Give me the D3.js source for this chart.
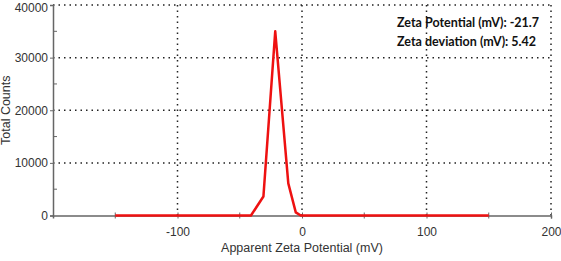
<!DOCTYPE html>
<html>
<head>
<meta charset="utf-8">
<script src="https://cdn.jsdelivr.net/npm/d3@7"></script>
<style>
  html, body { margin: 0; padding: 0; background: #fff; }
  svg { display: block; font-family: "Liberation Sans", Arial, sans-serif; }
</style>
</head>
<body>
<div id="chart"></div>
<script>
// distribution (mV vs counts)
const zeta = [-150, -41, -31, -21.5, -11, -5, -1, 150];
const counts = [0, 0, 3600, 35000, 6100, 600, 0, 0];

const xTicks = [-100, 0, 100, 200];
const xMinor = [-150, -50, 50, 150];
const yTicks = [0, 10000, 20000, 30000, 40000];
const yMinor = [5000, 15000, 25000, 35000];
const notes = ["Zeta Potential (mV): -21.7", "Zeta deviation (mV): 5.42"];

const width = 561, height = 261;
const svg = d3.select('#chart').append('svg')
    .attr('width', width)
    .attr('height', height);

const x = d3.scaleLinear().domain([-200, 200]).range([53, 551]);
const y = d3.scaleLinear().domain([0, 40000]).range([215.5, 5]);

// plain labels, hyphen minus like the original
const plain = d => String(d);

// dotted grid
svg.append('g').selectAll('line')
    .data(yTicks.filter(d => d > 0))
    .join('line')
    .attr('x1', x(-200)).attr('x2', x(200))
    .attr('y1', d => y(d)).attr('y2', d => y(d))
    .attr('stroke', '#222').attr('stroke-width', 1.5)
    .attr('stroke-dasharray', '1.5,4');

svg.append('g').selectAll('line')
    .data(xTicks)
    .join('line')
    .attr('x1', d => x(d)).attr('x2', d => x(d))
    .attr('y1', y(40000)).attr('y2', y(0))
    .attr('stroke', '#222').attr('stroke-width', 1.5)
    .attr('stroke-dasharray', '1.5,4');

// y axis
const yAxis = svg.append('g')
    .attr('transform', `translate(${x(-200)},0)`)
    .call(d3.axisLeft(y).tickValues(yTicks).tickFormat(plain).tickSize(3).tickPadding(2));
yAxis.select('.domain').attr('stroke', '#666').attr('stroke-width', 1.5);
yAxis.selectAll('.tick line').attr('stroke', '#666');
yAxis.selectAll('text').attr('font-size', 12).attr('fill', '#333');
// keep the top label inside the frame
yAxis.selectAll('.tick').filter(d => d === 40000).select('text').attr('dy', '0.5em');

svg.append('g').selectAll('line')
    .data(yMinor)
    .join('line')
    .attr('x1', x(-200)).attr('x2', x(-200) + 4)
    .attr('y1', d => y(d)).attr('y2', d => y(d))
    .attr('stroke', '#666');

// x axis
const xAxis = svg.append('g')
    .attr('transform', `translate(0,${y(0)})`)
    .call(d3.axisBottom(x).tickValues(xTicks).tickFormat(plain).tickSize(3).tickPadding(9));
xAxis.select('.domain').attr('stroke', '#666').attr('stroke-width', 1.5);
xAxis.selectAll('.tick line').attr('stroke', '#666').attr('y1', -3);
xAxis.selectAll('text').attr('font-size', 12).attr('fill', '#333');

svg.append('g').selectAll('line')
    .data(xMinor)
    .join('line')
    .attr('x1', d => x(d)).attr('x2', d => x(d))
    .attr('y1', y(0) - 3).attr('y2', y(0) + 3)
    .attr('stroke', '#666');

// the distribution curve
const line = d3.line()
    .x((d, i) => x(zeta[i]))
    .y(d => y(d));

svg.append('path')
    .datum(counts)
    .attr('d', line)
    .attr('fill', 'none')
    .attr('stroke', '#ee1111')
    .attr('stroke-width', 2.5)
    .attr('stroke-linejoin', 'round');

// axis titles
svg.append('text')
    .attr('x', x(0)).attr('y', 252)
    .attr('text-anchor', 'middle')
    .attr('font-size', 12.5).attr('fill', '#333')
    .text('Apparent Zeta Potential (mV)');

svg.append('text')
    .attr('transform', `translate(10,${(y(0) + y(40000)) / 2}) rotate(-90)`)
    .attr('text-anchor', 'middle')
    .attr('font-size', 12.5).attr('fill', '#333')
    .text('Total Counts');

// result annotation
svg.append('g').selectAll('text')
    .data(notes)
    .join('text')
    .attr('x', 397)
    .attr('y', (d, i) => 27 + i * 18.5)
    .attr('font-family', 'Lato, "Open Sans", sans-serif')
    .attr('font-weight', 'bold')
    .attr('font-size', 12.5)
    .attr('fill', '#111')
    .text(d => d);
</script>
</body>
</html>
